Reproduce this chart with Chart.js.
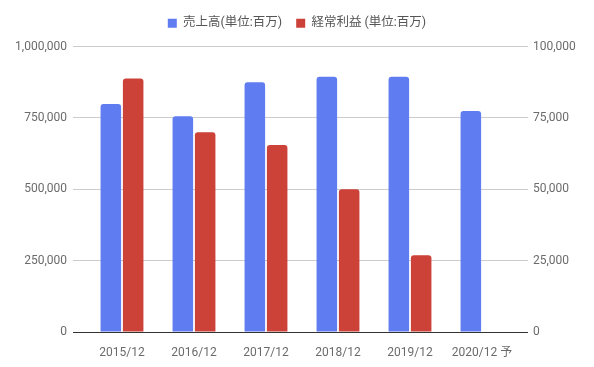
<!DOCTYPE html>
<html>
<head>
<meta charset="utf-8">
<script src="https://cdn.jsdelivr.net/npm/chart.js@4"></script>
<style>
    html, body { margin: 0; padding: 0; background: #ffffff; }
    #contenitore { width: 594px; height: 367px; }
</style>
</head>
<body>
<div id="contenitore"><canvas id="grafico"></canvas></div>
<script>
    const etichette = ['2015/12', '2016/12', '2017/12', '2018/12', '2019/12', '2020/12 予'];
    const vendite = [799000, 756000, 875000, 894000, 894000, 774000];   // 売上高
    const utile = [88800, 70000, 65500, 50000, 26900, null];           // 経常利益
    const tickSinistra = [0, 250000, 500000, 750000, 1000000];
    const tickDestra = [0, 25000, 50000, 75000, 100000];

    const blu = '#5f7cf1';
    const rosso = '#cc4239';
    const grigioGriglia = '#cccccc';

    // linea dello zero scura, le altre grigie
    const coloreGriglia = ctx => (ctx.tick && ctx.tick.value === 0) ? '#333333' : grigioGriglia;
    const formatta = v => Number(v).toLocaleString('en-US');

    // spazio extra sotto la legenda
    const spazioLegenda = {
        id: 'spazioLegenda',
        beforeInit(chart) {
            const fitOrig = chart.legend.fit;
            chart.legend.fit = function () {
                fitOrig.bind(chart.legend)();
                this.height += 7;
            };
        }
    };

    Chart.defaults.font.family = "Roboto, 'Noto Sans CJK JP', sans-serif";
    Chart.defaults.font.size = 12;
    Chart.defaults.color = '#6b6b6b';

    const ctx = document.getElementById('grafico').getContext('2d');
    new Chart(ctx, {
        type: 'bar',
        data: {
            labels: etichette,
            datasets: [{
                label: '売上高(単位:百万)',
                data: vendite,
                yAxisID: 'ySx',
                backgroundColor: blu,
                borderRadius: { topLeft: 3, topRight: 3 },
                borderSkipped: 'start',
                categoryPercentage: 0.62,
                barPercentage: 0.92
            }, {
                label: '経常利益 (単位:百万)',
                data: utile,
                yAxisID: 'yDx',
                backgroundColor: rosso,
                borderRadius: { topLeft: 3, topRight: 3 },
                borderSkipped: 'start',
                categoryPercentage: 0.62,
                barPercentage: 0.92
            }]
        },
        options: {
            responsive: true,
            maintainAspectRatio: false,
            animation: false,
            layout: { padding: { top: 3 } },
            plugins: {
                legend: {
                    position: 'top',
                    labels: {
                        boxWidth: 9,
                        boxHeight: 9,
                        padding: 14,
                        color: '#555555',
                        font: { size: 12.5 }
                    }
                },
                tooltip: { enabled: false }
            },
            scales: {
                x: {
                    grid: { display: false },
                    border: { display: true, color: '#333333', width: 1 },
                    ticks: { padding: 6 },
                    afterFit: s => { s.height = 35; }
                },
                ySx: {
                    position: 'left',
                    min: 0,
                    max: 1000000,
                    afterBuildTicks: s => { s.ticks = tickSinistra.map(v => ({ value: v })); },
                    grid: { color: coloreGriglia, tickLength: 13 },
                    border: { display: false },
                    ticks: { padding: 6, callback: formatta },
                    afterFit: s => { s.width = 86; }
                },
                yDx: {
                    position: 'right',
                    min: 0,
                    max: 100000,
                    afterBuildTicks: s => { s.ticks = tickDestra.map(v => ({ value: v })); },
                    grid: { color: coloreGriglia, tickLength: 10, drawOnChartArea: false },
                    border: { display: false },
                    ticks: { padding: 5, callback: formatta },
                    afterFit: s => { s.width = 76; }
                }
            }
        },
        plugins: [spazioLegenda]
    });
</script>
</body>
</html>
